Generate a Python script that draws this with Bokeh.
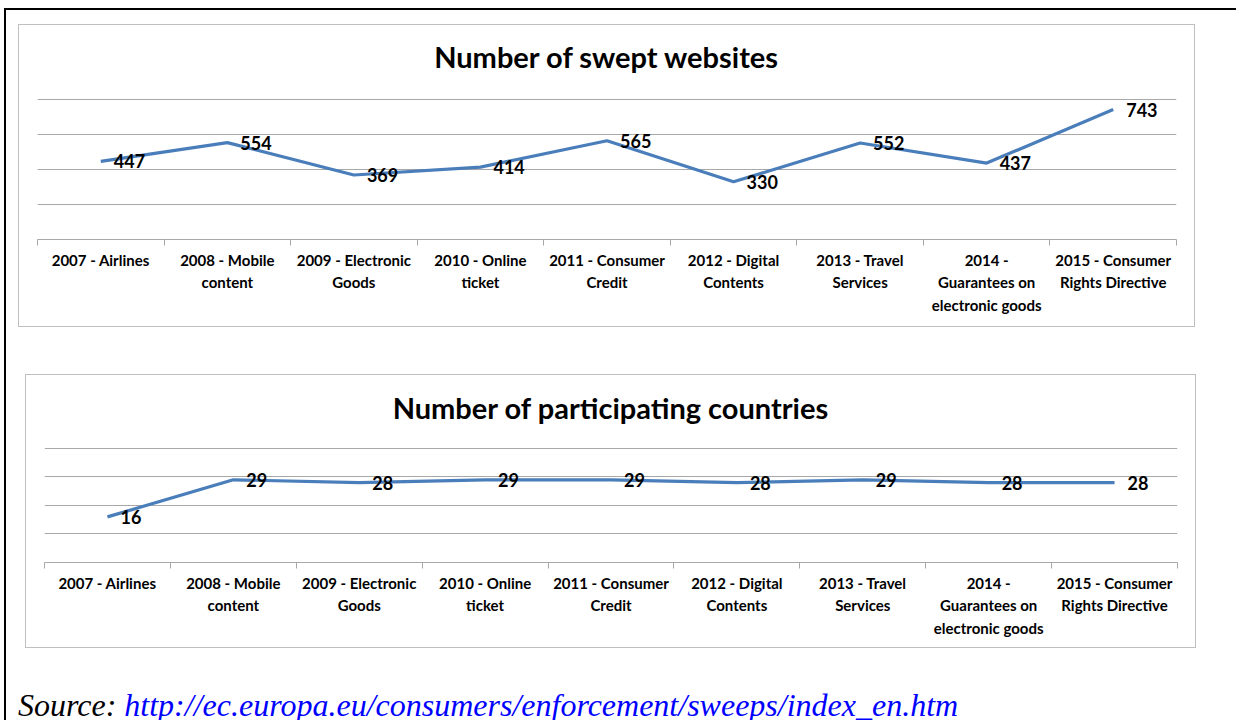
from bokeh.plotting import figure
from bokeh.models import Range1d, LinearAxis, FixedTicker, Grid, Div, ColumnDataSource, Title
from bokeh.layouts import column
from bokeh.core.properties import value
from bokeh.embed import file_html
from bokeh.resources import INLINE

categories = ["2007 - Airlines", "2008 - Mobile content", "2009 - Electronic Goods",
              "2010 - Online ticket", "2011 - Consumer Credit", "2012 - Digital Contents",
              "2013 - Travel Services", "2014 - Guarantees on electronic goods",
              "2015 - Consumer Rights Directive"]
tick_labels = ["2007 - Airlines", "2008 - Mobile\ncontent", "2009 - Electronic\nGoods",
               "2010 - Online\nticket", "2011 - Consumer\nCredit", "2012 - Digital\nContents",
               "2013 - Travel\nServices", "2014 -\nGuarantees on\nelectronic goods",
               "2015 - Consumer\nRights Directive"]
websites = [447, 554, 369, 414, 565, 330, 552, 437, 743]
countries = [16, 29, 28, 29, 29, 28, 29, 28, 28]
websites_grid = [200, 400, 600, 800]
countries_grid = [10, 20, 30, 40]
title1 = "Number of swept websites"
title2 = "Number of participating countries"
source_label = "Source: "
source_url = "http://ec.europa.eu/consumers/enforcement/sweeps/index_en.htm"

LINE = "#4a7ebb"
GRID = "#a8a8a8"
FONT = "Lato"


def make_panel(title, values, grid_ticks, y_max, width, height, borders, margin, title_gap):
    n = len(categories)
    xs = list(range(n))
    src = ColumnDataSource(dict(x=xs, y=values, lab=[str(v) for v in values], cat=categories))
    top, right, bottom, left = borders
    p = figure(width=width, height=height,
               x_range=Range1d(-0.5, n - 0.5), y_range=Range1d(0, y_max * 1.008),
               x_axis_type=None, y_axis_type=None,
               toolbar_location=None, output_backend="svg",
               min_border_top=top, min_border_right=right,
               min_border_bottom=bottom, min_border_left=left,
               outline_line_color=None, background_fill_color="white",
               border_fill_color="white",
               styles={"border": "1px solid #bfbfbf"}, margin=margin)
    p.title.text = title
    p.title.align = "center"
    p.title.text_font = FONT
    p.title.text_font_style = "bold"
    p.title.text_font_size = "29px"
    p.title.text_color = "black"
    p.title.standoff = 0
    # empty spacer between the title and the plot area
    p.add_layout(Title(text=" ", text_font_size="1px", standoff=title_gap), "above")
    p.add_layout(Grid(dimension=1, ticker=FixedTicker(ticks=grid_ticks),
                      grid_line_color=GRID, grid_line_width=1.2))
    ax = LinearAxis(ticker=FixedTicker(ticks=xs, minor_ticks=[i - 0.5 for i in range(n + 1)]),
                    major_label_overrides={x: t for x, t in zip(xs, tick_labels)})
    ax.axis_line_color = GRID
    ax.axis_line_width = 1.2
    ax.major_tick_out = 0
    ax.major_tick_in = 0
    ax.minor_tick_out = 6
    ax.minor_tick_in = 0
    ax.minor_tick_line_color = GRID
    ax.major_label_text_font = FONT
    ax.major_label_text_font_style = "bold"
    ax.major_label_text_font_size = "15px"
    ax.major_label_text_color = "black"
    ax.major_label_text_line_height = 1.27
    ax.major_label_standoff = 5
    p.add_layout(ax, "below")
    p.line("x", "y", source=src, line_color=LINE, line_width=3.2)
    p.text("x", "y", text="lab", source=src, x_offset=13, text_align="left",
           text_baseline="middle", text_font=value(FONT), text_font_style="bold",
           text_font_size="18px", text_color="black")
    return p


p1 = make_panel(title1, websites, websites_grid, 800, 1177, 303, (73, 20, 89, 18),
                (14, 0, 0, 12), 22)
p2 = make_panel(title2, countries, countries_grid, 40, 1171, 274, (72, 20, 87, 18),
                (47, 0, 0, 19), 20)

src_div = Div(text=(
    '<div style="font-family:\'Liberation Serif\',serif;font-style:italic;font-size:32px;'
    'line-height:30px;white-space:nowrap;">'
    + source_label + '<span style="color:#0000ff;">' + source_url + '</span></div>'),
    width=1100, height=30, margin=(42, 0, 0, 12), styles={"overflow": "hidden"})

layout = column(p1, p2, src_div, spacing=0, width=1232, margin=(8, 0, 0, 4),
                styles={"border-top": "2px solid black", "border-left": "2px solid black"})

open("out.html", "w").write(file_html(layout, INLINE))
